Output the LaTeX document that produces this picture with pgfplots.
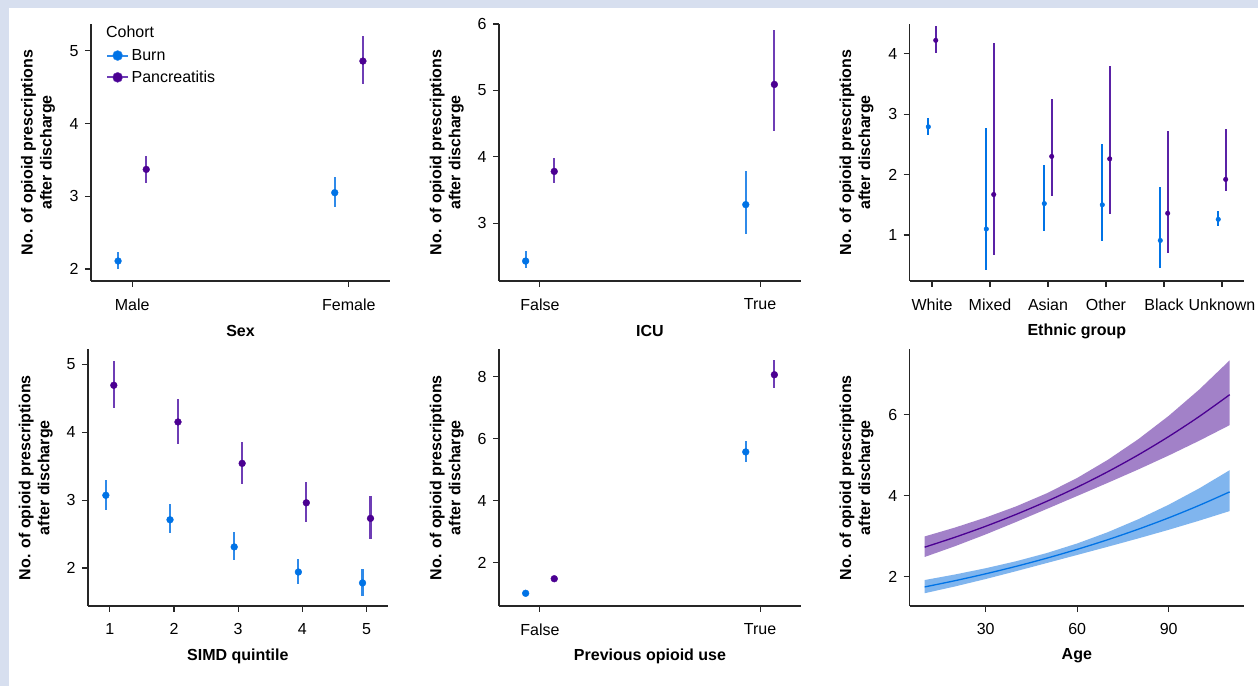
\documentclass[border=0pt]{standalone}
\usepackage{fontspec}
\setmainfont{Liberation Sans}
\usepackage{pgfplots}
\pgfplotsset{compat=1.18}
\usepackage{pgfplotstable}

\definecolor{bgc}{HTML}{D7DFEF}
\definecolor{burn}{HTML}{0073E6}
\definecolor{burnline}{HTML}{2F8AE9}
\definecolor{panc}{HTML}{4B0092}
\definecolor{pancline}{HTML}{6E3DB5}
\definecolor{pancdark}{HTML}{5A22A6}
\definecolor{burnband}{HTML}{80B5EE}
\definecolor{pancband}{HTML}{A281C8}
\definecolor{axc}{HTML}{262626}

\newcommand{\fs}{\fontsize{16bp}{19bp}\selectfont}

\pgfplotsset{
  myax/.style={
    scale only axis, anchor=south west,
    axis x line*=bottom, axis y line*=left,
    axis line style={axc, line width=1.3bp, -},
    tick style={axc, line width=1.1bp},
    tick align=outside, major tick length=6bp,
    minor tick num=0,
    /pgf/number format/assume math mode=true,
    tick label style={font=\fs, text=black},
    yticklabel style={xshift=-3bp},
    xticklabel style={yshift=-8bp},
    label style={font=\fs\bfseries},
    ylabel={No. of opioid prescriptions\\after discharge},
    ylabel style={align=center, anchor=center},
    xlabel style={at={(axis description cs:0.5,0)}, anchor=center, yshift=-50bp},
    clip=false,
  },
  eB/.style={color=burn, only marks, mark=*, mark size=3.4bp, mark options={fill=burn, draw=burn},
    error bars/y dir=both, error bars/y explicit, error bars/error mark=none,
    error bars/error bar style={line width=2.2bp, draw=burnline}},
  eP/.style={color=panc, only marks, mark=*, mark size=3.4bp, mark options={fill=panc, draw=panc},
    error bars/y dir=both, error bars/y explicit, error bars/error mark=none,
    error bars/error bar style={line width=2.2bp, draw=pancline}},
  eBs/.style={color=burn, only marks, mark=*, mark size=2.3bp, mark options={fill=burn, draw=burn},
    error bars/y dir=both, error bars/y explicit, error bars/error mark=none,
    error bars/error bar style={line width=1.8bp, draw=burn}},
  ePs/.style={color=panc, only marks, mark=*, mark size=2.3bp, mark options={fill=panc, draw=panc},
    error bars/y dir=both, error bars/y explicit, error bars/error mark=none,
    error bars/error bar style={line width=1.8bp, draw=pancdark}},
}

% ---------------- data ----------------
\pgfplotstableread{
x y lo hi
0 2.11 2.00 2.23
1 3.05 2.85 3.27
}\sexB
\pgfplotstableread{
x y lo hi
0 3.37 3.18 3.56
1 4.86 4.54 5.21
}\sexP
\pgfplotstableread{
x y lo hi
0 2.43 2.32 2.58
1 3.28 2.84 3.79
}\icuB
\pgfplotstableread{
x y lo hi
0 3.78 3.60 3.98
1 5.09 4.39 5.91
}\icuP
\pgfplotstableread{
x y lo hi
0 2.79 2.66 2.94
1 1.10 0.43 2.77
2 1.52 1.07 2.16
3 1.50 0.90 2.51
4 0.91 0.46 1.80
5 1.26 1.15 1.39
}\ethB
\pgfplotstableread{
x y lo hi
0 4.22 4.01 4.45
1 1.67 0.67 4.18
2 2.30 1.64 3.25
3 2.26 1.35 3.80
4 1.36 0.70 2.72
5 1.92 1.73 2.75
}\ethP
\pgfplotstableread{
x y lo hi
1 3.07 2.86 3.30
2 2.71 2.51 2.94
3 2.31 2.12 2.53
4 1.94 1.76 2.13
5 1.78 1.59 1.99
}\simdB
\pgfplotstableread{
x y lo hi
1 4.69 4.36 5.05
2 4.15 3.82 4.49
3 3.54 3.24 3.86
4 2.96 2.68 3.26
5 2.73 2.43 3.06
}\simdP
\pgfplotstableread{
x y lo hi
0 1.01 0.96 1.06
1 5.57 5.24 5.93
}\prevB
\pgfplotstableread{
x y lo hi
0 1.48 1.42 1.54
1 8.06 7.63 8.55
}\prevP
% Age: fitted mean and 95% band (band listed upper edge forward, lower edge back)
\pgfplotstableread{
age mean
10 1.750
20 1.905
30 2.074
40 2.258
50 2.459
60 2.677
70 2.914
80 3.173
90 3.454
100 3.761
110 4.094
}\ageB
\pgfplotstableread{
age v
10 1.920
20 2.058
30 2.211
40 2.384
50 2.585
60 2.822
70 3.099
80 3.418
90 3.777
100 4.180
110 4.629
110 3.621
100 3.384
90 3.159
80 2.946
70 2.740
60 2.539
50 2.339
40 2.139
30 1.945
20 1.763
10 1.595
}\ageBband
\pgfplotstableread{
age mean
10 2.730
20 2.977
30 3.246
40 3.540
50 3.860
60 4.209
70 4.590
80 5.005
90 5.458
100 5.952
110 6.490
}\ageP
\pgfplotstableread{
age v
10 2.995
20 3.216
30 3.461
40 3.737
50 4.058
60 4.437
70 4.882
80 5.391
90 5.968
100 6.616
110 7.338
110 5.740
100 5.355
90 4.991
80 4.646
70 4.316
60 3.993
50 3.672
40 3.353
30 3.045
20 2.756
10 2.489
}\agePband

\begin{document}
\begin{tikzpicture}
\useasboundingbox (0bp,0bp) rectangle (1258bp,686bp);
\fill[bgc] (0bp,0bp) rectangle (1258bp,686bp);
\fill[white] (9bp,0bp) rectangle (1258bp,678bp);

% ---------- Sex ----------
\begin{axis}[myax, at={(91bp,405bp)}, width=299bp, height=257bp,
  xmin=-0.19, xmax=1.19, ymin=1.835, ymax=5.37,
  xtick={0,1}, xticklabels={Male,Female}, ytick={2,3,4,5},
  xlabel={Sex},
  ylabel style={at={(axis description cs:-0.177,0.5)}},
  legend style={draw=none, fill=none, at={(0.05,0.912)}, anchor=north west,
    font=\fs, row sep=4bp, inner sep=0pt, nodes={inner sep=2.5bp}},
  legend cell align=left,
  legend image code/.code={\draw[#1, line width=2bp] (0bp,0bp) -- (21bp,0bp); \fill[#1] (10.5bp,0bp) circle (5bp);}]
\addplot[forget plot, eB] table[x expr=\thisrow{x}-0.065, y=y, y error plus expr=\thisrow{hi}-\thisrow{y}, y error minus expr=\thisrow{y}-\thisrow{lo}] {\sexB};
\addplot[forget plot, eP] table[x expr=\thisrow{x}+0.065, y=y, y error plus expr=\thisrow{hi}-\thisrow{y}, y error minus expr=\thisrow{y}-\thisrow{lo}] {\sexP};
\addlegendimage{draw=burnline, fill=burn}
\addlegendentry{Burn}
\addlegendimage{draw=pancline, fill=panc}
\addlegendentry{Pancreatitis}
\node[anchor=west, inner sep=0pt, font=\fs] at (axis description cs:0.05,0.969) {Cohort};
\end{axis}

% ---------- ICU ----------
\begin{axis}[myax, at={(499bp,405bp)}, width=302bp, height=257bp,
  xmin=-0.186, xmax=1.186, ymin=2.13, ymax=6,
  xtick={0,1}, xticklabels={False,True}, ytick={3,4,5,6},
  xlabel={ICU},
  ylabel style={at={(axis description cs:-0.173,0.5)}}]
\addplot[eB] table[x expr=\thisrow{x}-0.065, y=y, y error plus expr=\thisrow{hi}-\thisrow{y}, y error minus expr=\thisrow{y}-\thisrow{lo}] {\icuB};
\addplot[eP] table[x expr=\thisrow{x}+0.065, y=y, y error plus expr=\thisrow{hi}-\thisrow{y}, y error minus expr=\thisrow{y}-\thisrow{lo}] {\icuP};
\end{axis}

% ---------- Ethnic group ----------
\begin{axis}[myax, at={(909.7bp,405bp)}, width=334.3bp, height=257bp,
  xmin=-0.385, xmax=5.38, ymin=0.24, ymax=4.49,
  xtick={0,1,2,3,4,5}, xticklabels={White,Mixed,Asian,Other,Black,Unknown}, ytick={1,2,3,4},
  xlabel={Ethnic group},
  ylabel style={at={(axis description cs:-0.159,0.5)}}]
\addplot[eBs] table[x expr=\thisrow{x}-0.064, y=y, y error plus expr=\thisrow{hi}-\thisrow{y}, y error minus expr=\thisrow{y}-\thisrow{lo}] {\ethB};
\addplot[ePs] table[x expr=\thisrow{x}+0.064, y=y, y error plus expr=\thisrow{hi}-\thisrow{y}, y error minus expr=\thisrow{y}-\thisrow{lo}] {\ethP};
\end{axis}

% ---------- SIMD ----------
\begin{axis}[myax, at={(88bp,80bp)}, width=299.7bp, height=256.7bp,
  xmin=0.66, xmax=5.33, ymin=1.44, ymax=5.22,
  xtick={1,2,3,4,5}, ytick={2,3,4,5},
  xlabel={SIMD quintile},
  ylabel style={at={(axis description cs:-0.174,0.5)}}]
\addplot[eB] table[x expr=\thisrow{x}-0.062, y=y, y error plus expr=\thisrow{hi}-\thisrow{y}, y error minus expr=\thisrow{y}-\thisrow{lo}] {\simdB};
\addplot[eP] table[x expr=\thisrow{x}+0.062, y=y, y error plus expr=\thisrow{hi}-\thisrow{y}, y error minus expr=\thisrow{y}-\thisrow{lo}] {\simdP};
\end{axis}

% ---------- Previous opioid use ----------
\begin{axis}[myax, at={(499bp,80bp)}, width=302bp, height=256.7bp,
  xmin=-0.186, xmax=1.186, ymin=0.60, ymax=8.88,
  xtick={0,1}, xticklabels={False,True}, ytick={2,4,6,8},
  xlabel={Previous opioid use},
  ylabel style={at={(axis description cs:-0.173,0.5)}}]
\addplot[eB] table[x expr=\thisrow{x}-0.065, y=y, y error plus expr=\thisrow{hi}-\thisrow{y}, y error minus expr=\thisrow{y}-\thisrow{lo}] {\prevB};
\addplot[eP] table[x expr=\thisrow{x}+0.065, y=y, y error plus expr=\thisrow{hi}-\thisrow{y}, y error minus expr=\thisrow{y}-\thisrow{lo}] {\prevP};
\end{axis}

% ---------- Age ----------
\begin{axis}[myax, at={(909.7bp,80bp)}, width=334.3bp, height=256.7bp,
  xmin=5.1, xmax=114.7, ymin=1.28, ymax=7.61,
  xtick={30,60,90}, ytick={2,4,6},
  xlabel={Age},
  ylabel style={at={(axis description cs:-0.159,0.5)}}]
\addplot[fill=pancband, draw=none] table[x=age, y=v] {\agePband};
\addplot[fill=burnband, draw=none] table[x=age, y=v] {\ageBband};
\addplot[draw=panc, line width=1.3bp, smooth, no marks] table[x=age, y=mean] {\ageP};
\addplot[draw=burn, line width=1.3bp, smooth, no marks] table[x=age, y=mean] {\ageB};
\end{axis}
\end{tikzpicture}
\end{document}
